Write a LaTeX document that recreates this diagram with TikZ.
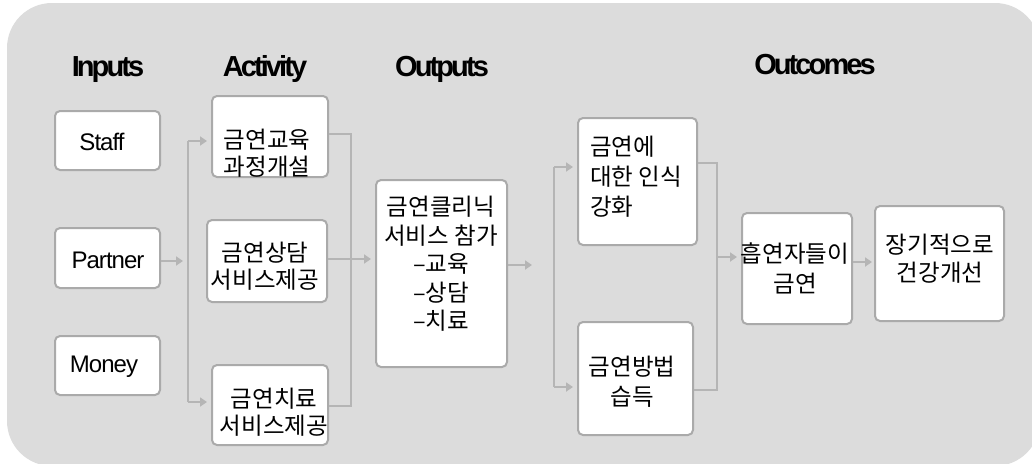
\documentclass[tikz,border=0pt]{standalone}
\usepackage{fontspec}
\setmainfont{Liberation Sans}
\newfontfamily\kr{Noto Sans CJK KR}
\newfontfamily\latinbox[LetterSpace=-4]{Liberation Sans}
\newfontfamily\hdrfont[LetterSpace=-10]{Liberation Sans}
\usetikzlibrary{arrows.meta}
\definecolor{bg}{HTML}{DCDCDC}
\definecolor{bord}{HTML}{AAAAAA}
\definecolor{lnc}{HTML}{B5B5B5}
\begin{document}
\begin{tikzpicture}[x=1pt,y=-1pt,
  box/.style={draw=bord,line width=2pt,fill=white,rounded corners=5pt,inner sep=0pt},
  hdr/.style={font=\hdrfont\bfseries\fontsize{29}{34}\selectfont,anchor=base,inner sep=0pt},
  lbl/.style={font=\latinbox\fontsize{24}{28}\selectfont,inner sep=0pt},
  ktxt/.style={font=\kr\fontsize{23.5}{27}\selectfont,align=center,inner sep=0pt},
  conn/.style={draw=lnc,line width=2.5pt,line join=miter},
  arr/.style={conn,-{Triangle[length=7pt,width=9pt]},shorten >=4pt}]
\useasboundingbox (0,0) rectangle (1032,463);
\begin{scope}
  \clip (0,0) rectangle (1032,463);
  \fill[bg,rounded corners=45pt] (7,3) rectangle (1040,466);
\end{scope}
% headers
\node[hdr] (hin) at (108,76) {Inputs};
\node[hdr] (hact) at (265,76) {Activity};
\node[hdr] (hout) at (442,76) {Outputs};
\node[hdr] (hoc) at (815,74) {Outcomes};
% boxes
\node[box,minimum width=105pt,minimum height=59pt] (staff) at (107.5,140.5) {};
\node[box,minimum width=105pt,minimum height=60pt] (partner) at (107.5,258) {};
\node[box,minimum width=105pt,minimum height=59pt] (money) at (107.5,365.5) {};
\node[box,minimum width=116pt,minimum height=81pt] (act1) at (270,136.5) {};
\node[box,minimum width=120pt,minimum height=82pt] (act2) at (267,261) {};
\node[box,minimum width=116pt,minimum height=80pt] (act3) at (270,405) {};
\node[box,minimum width=131pt,minimum height=187pt] (out) at (441.5,273.5) {};
\node[box,minimum width=119pt,minimum height=127pt] (oc1) at (637.5,181.5) {};
\node[box,minimum width=115pt,minimum height=113pt] (oc2) at (635.5,378.5) {};
\node[box,minimum width=110pt,minimum height=111pt] (smk) at (797,268.5) {};
\node[box,minimum width=129pt,minimum height=115pt] (long) at (939.5,263.5) {};
% texts
\node[lbl] (tstaff) at (102,142) {Staff};
\node[lbl] (tpartner) at (108,260) {Partner};
\node[lbl] (tmoney) at (104,367) {Money};
\node[ktxt] (tact1) at (267,153) {금연교육\\과정개설};
\node[ktxt] (tact2) at (265,266) {금연상담\\서비스제공};
\node[ktxt] (tact3) at (274,412) {금연치료\\서비스제공};
\node[ktxt,font=\kr\fontsize{23.5}{28.5}\selectfont] (tout) at (441,264) {금연클리닉\\서비스 참가\\–교육\\–상담\\–치료};
\node[ktxt,font=\kr\fontsize{23.5}{30}\selectfont,align=left,anchor=west] (toc1) at (590,177) {금연에\\대한 인식\\강화};
\node[ktxt,font=\kr\fontsize{23.5}{30}\selectfont] (toc2) at (632,382) {금연방법\\습득};
\node[ktxt,font=\kr\fontsize{23.5}{30}\selectfont] (tsmk) at (795,268) {흡연자들이\\금연};
\node[ktxt,font=\kr\fontsize{23.5}{28}\selectfont] (tlong) at (940,259) {장기적으로\\건강개선};
% connectors: inputs -> activities
\coordinate (pe) at (183,261);
\draw[arr,shorten >=0pt] (partner.east |- pe) -- (pe);
\coordinate (j1) at (188,141);
\coordinate (j3) at (188,402);
\draw[conn] (j1) -- (j3);
\draw[arr] (j1) -- (act1.west |- j1);
\draw[arr] (j3) -- (act3.west |- j3);
% activities -> outputs
\coordinate (k1) at (351,134);
\coordinate (k3) at (351,406);
\draw[conn] (act1.east |- k1) -- (k1) -- (k3) -- (act3.east |- k3);
\coordinate (a2) at (327,259);
\draw[arr] (act2.east |- a2) -- (out.west |- a2);
% outputs -> outcomes
\coordinate (oe) at (532,265);
\draw[arr,shorten >=0pt] (out.east |- oe) -- (oe);
\coordinate (m1) at (554,167);
\coordinate (m2) at (554,387);
\draw[conn] (m1) -- (m2);
\draw[arr] (m1) -- (oc1.west |- m1);
\draw[arr] (m2) -- (oc2.west |- m2);
\coordinate (n1) at (717,163);
\coordinate (n2) at (717,390);
\draw[conn] (oc1.east |- n1) -- (n1) -- (n2) -- (oc2.east |- n2);
\coordinate (n0) at (717,257);
\draw[arr] (n0) -- (smk.west |- n0);
\coordinate (s0) at (852,262);
\draw[arr,shorten >=2pt] (smk.east |- s0) -- (long.west |- s0);
\end{tikzpicture}
\end{document}
